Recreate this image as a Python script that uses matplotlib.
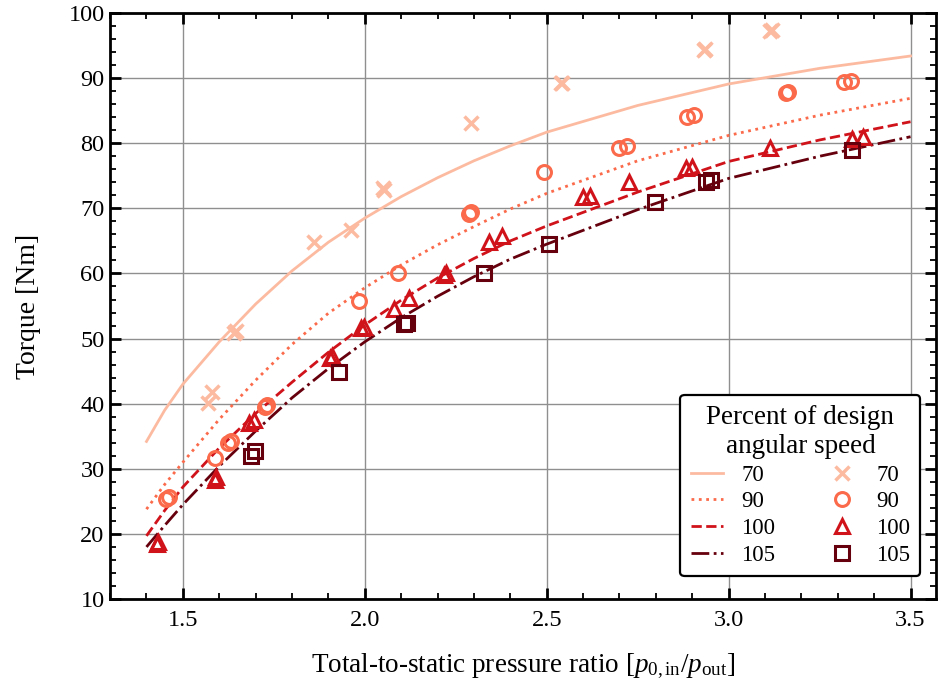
import matplotlib
matplotlib.use('Agg')
import matplotlib.pyplot as plt
from matplotlib.ticker import MultipleLocator

plt.rcParams['font.family'] = ['Liberation Serif', 'DejaVu Serif']
plt.rcParams['mathtext.fontset'] = 'custom'
plt.rcParams['mathtext.rm'] = 'Liberation Serif'
plt.rcParams['mathtext.it'] = 'Liberation Serif:italic'

# fitted curves
fit_x = [1.40, 1.45, 1.50, 1.60, 1.70, 1.80, 1.90, 2.00, 2.10, 2.20, 2.30, 2.40, 2.50, 2.75, 3.00, 3.25, 3.50]
fit_70 = [34.2, 39.0, 43.0, 49.5, 55.3, 60.4, 64.8, 68.5, 71.8, 74.7, 77.3, 79.6, 81.7, 85.8, 89.1, 91.5, 93.4]
fit_90 = [23.8, 27.6, 31.0, 37.6, 43.6, 49.1, 53.9, 57.8, 61.3, 64.4, 67.2, 69.9, 72.3, 77.3, 81.2, 84.3, 86.9]
fit_100 = [19.7, 23.6, 27.2, 33.2, 38.5, 43.3, 47.9, 52.1, 55.9, 59.3, 62.3, 65.0, 67.3, 72.5, 77.2, 80.5, 83.3]
fit_105 = [18.0, 21.3, 24.5, 30.4, 35.8, 40.9, 45.4, 49.5, 53.2, 56.5, 59.5, 62.2, 64.5, 69.8, 74.6, 78.0, 81.0]

# measured points
x70 = [1.568, 1.580, 1.641, 1.645, 1.860, 1.962, 2.049, 2.052, 2.291, 2.538, 2.542, 2.932, 2.936, 3.115, 3.120]
y70 = [40.1, 41.8, 50.8, 51.2, 64.8, 66.7, 73.1, 72.8, 83.1, 89.2, 89.3, 94.3, 94.5, 97.3, 97.4]

x90 = [1.455, 1.462, 1.589, 1.623, 1.632, 1.725, 1.730, 1.984, 2.090, 2.287, 2.292, 2.493,
       2.699, 2.722, 2.886, 2.905, 3.157, 3.162, 3.316, 3.335]
y90 = [25.3, 25.7, 31.6, 34.0, 34.3, 39.5, 39.8, 55.8, 60.1, 69.2, 69.5, 75.6,
       79.3, 79.6, 84.1, 84.4, 87.7, 87.9, 89.4, 89.5]

x100 = [1.428, 1.432, 1.587, 1.591, 1.682, 1.696, 1.905, 1.910, 1.989, 1.998, 2.081, 2.122,
        2.218, 2.222, 2.342, 2.378, 2.601, 2.619, 2.726, 2.882, 2.900, 3.115, 3.338, 3.370]
y100 = [18.5, 18.8, 28.3, 28.7, 37.0, 37.5, 47.0, 47.4, 51.6, 51.8, 54.6, 56.2,
        59.8, 60.0, 64.9, 65.7, 71.7, 71.9, 74.0, 76.2, 76.4, 79.3, 80.6, 80.9]

x105 = [1.687, 1.699, 1.929, 2.108, 2.115, 2.327, 2.506, 2.797, 2.937, 2.951, 3.338]
y105 = [32.0, 32.7, 44.9, 52.2, 52.4, 60.1, 64.6, 71.0, 74.1, 74.3, 79.0]

speeds = ['70', '90', '100', '105']
colors = ['#fcbba1', '#fb6a4a', '#d0121b', '#67000d']
styles = ['-', ':', '--', '-.']
markers = ['x', 'o', '^', 's']

fig = plt.figure(figsize=(9.41, 6.85), dpi=100)
ax = fig.add_axes([0.117, 0.1255, 0.8777, 0.8555])

fits = [fit_70, fit_90, fit_100, fit_105]
pts = [(x70, y70), (x90, y90), (x100, y100), (x105, y105)]

line_h = []
for f, c, ls, lab in zip(fits, colors, styles, speeds):
    h, = ax.plot(fit_x, f, color=c, ls=ls, lw=2, label=lab)
    line_h.append(h)

mark_h = []
for (px, py), c, m, lab in zip(pts, colors, markers, speeds):
    if m == 'x':
        h, = ax.plot(px, py, ls='none', marker=m, ms=10, mew=2.5, color=c, label=lab)
    else:
        h, = ax.plot(px, py, ls='none', marker=m, ms=10, mew=2.2, mfc='none', mec=c, label=lab)
    mark_h.append(h)

ax.set_xlim(1.3, 3.57)
ax.set_ylim(10, 100)
ax.xaxis.set_major_locator(MultipleLocator(0.5))
ax.xaxis.set_minor_locator(MultipleLocator(0.1))
ax.yaxis.set_major_locator(MultipleLocator(10))
ax.yaxis.set_minor_locator(MultipleLocator(2))
ax.xaxis.set_major_formatter(matplotlib.ticker.FormatStrFormatter('%.1f'))
ax.tick_params(which='both', direction='in', top=True, right=True, labelsize=17.5)
ax.tick_params(which='major', length=8, width=2)
ax.tick_params(which='minor', length=4, width=1.3)
ax.tick_params(axis='x', pad=8)
ax.tick_params(axis='y', pad=4)
for s in ax.spines.values():
    s.set_linewidth(2)
ax.grid(True, which='major', color='#8f8f8f', lw=1)
ax.set_axisbelow(True)

ax.set_ylabel('Torque [Nm]', fontsize=20, labelpad=20)
ax.set_xlabel(r'Total-to-static pressure ratio [$p_{0,\mathrm{in}}/p_{\mathrm{out}}$]',
              fontsize=19.5, labelpad=15)

leg = ax.legend(line_h + mark_h, speeds + speeds, ncol=2, loc='lower right',
                bbox_to_anchor=(0.981, 0.039), borderaxespad=0,
                title='Percent of design\nangular speed',
                fontsize=16.5, title_fontsize=19.5, handlelength=1.4, columnspacing=2.2,
                handletextpad=0.8, labelspacing=0.25, framealpha=1, fancybox=True,
                edgecolor='black', borderpad=0.45)
leg.get_title().set_multialignment('center')
leg.get_frame().set_linewidth(1.6)

fig.savefig('out.png', dpi=100)
